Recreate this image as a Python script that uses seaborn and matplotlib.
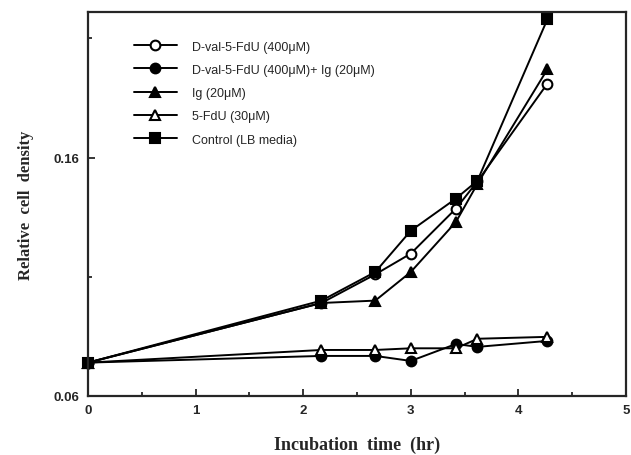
import matplotlib
matplotlib.use("Agg")
import matplotlib.pyplot as plt
import numpy as np
import pandas as pd
import seaborn as sns

# incubation times (hr)
hours = [0, 2.17, 2.67, 3.0, 3.42, 3.62, 4.27]

# relative cell density per condition
dval = [0.074, 0.099, 0.111, 0.1197, 0.1386, 0.150, 0.191]
dval_ig = [0.074, 0.0768, 0.0768, 0.0747, 0.0818, 0.0806, 0.0831]
ig = [0.074, 0.099, 0.100, 0.112, 0.133, 0.149, 0.197]
fdu = [0.074, 0.0793, 0.0793, 0.080, 0.080, 0.084, 0.0848]
control = [0.074, 0.100, 0.112, 0.1293, 0.1428, 0.1503, 0.218]

labels = ["D-val-5-FdU (400\u03bcM)",
          "D-val-5-FdU (400\u03bcM)+ Ig (20\u03bcM)",
          "Ig (20\u03bcM)",
          "5-FdU (30\u03bcM)",
          "Control (LB media)"]
series = [dval, dval_ig, ig, fdu, control]
markers = ["o", "o", "^", "^", "s"]
faces = ["white", "black", "black", "white", "black"]

sns.set_style("ticks")
plt.rcParams['font.family'] = ['Liberation Sans', 'DejaVu Sans']

fig = plt.figure(figsize=(6.31, 4.56), dpi=100)
ax = fig.add_axes([0.1395, 0.1294, 0.8525, 0.842])

for lab, vals, m, fc in zip(labels, series, markers, faces):
    df = pd.DataFrame({"hours": hours, "density": vals})
    sns.lineplot(data=df, x="hours", y="density", ax=ax, color="black",
                 marker=m, markerfacecolor=fc, markeredgecolor="black",
                 markeredgewidth=1.5, markersize=7, linewidth=1.4,
                 label=lab, clip_on=False)

ax.set_xlim(0, 5)
ax.set_ylim(0.06, 0.221)
ax.set_xticks([0, 1, 2, 3, 4, 5])
ax.set_xticks(np.arange(0.5, 5, 1), minor=True)
ax.set_yticks([0.06, 0.16])
ax.set_yticklabels(["0.06", "0.16"])
ax.set_yticks([0.11, 0.21], minor=True)
ax.tick_params(which="both", direction="in", width=1.3, labelsize=9.5)
ax.tick_params(which="major", length=5, pad=6)
ax.tick_params(which="minor", length=3)
for lbl in ax.get_xticklabels() + ax.get_yticklabels():
    lbl.set_fontweight("bold")
for sp in ax.spines.values():
    sp.set_linewidth(1.6)

ax.set_xlabel("Incubation  time  (hr)", family="Liberation Serif",
              fontweight="bold", fontsize=13, labelpad=14)
ax.set_ylabel("Relative  cell  density", family="Liberation Serif",
              fontweight="bold", fontsize=12, labelpad=14)

ax.legend(loc="upper left", bbox_to_anchor=(0.065, 0.955), frameon=False,
          fontsize=9, handlelength=3.4, labelspacing=0.9, handletextpad=1.2)

fig.savefig("out.png", dpi=100)
